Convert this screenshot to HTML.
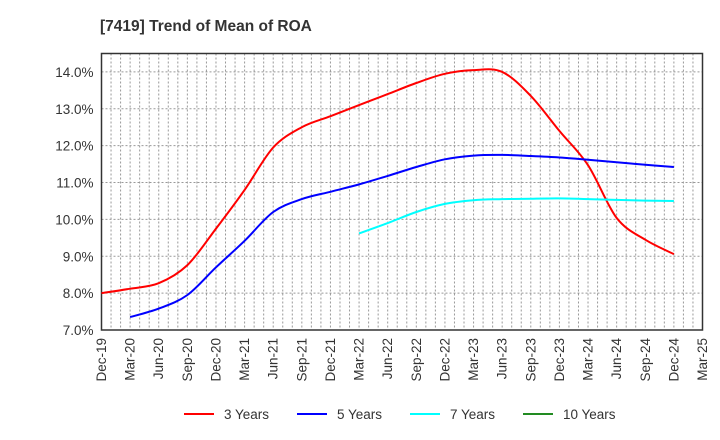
<!DOCTYPE html>
<html><head><meta charset="utf-8"><style>
body{margin:0;background:#fff;}
svg{display:block;font-family:"Liberation Sans",sans-serif;}
</style></head><body>
<svg id="chart" width="720" height="440">
<text x="100" y="31" font-size="15.5" font-weight="bold" fill="#333">[7419]  Trend of Mean of ROA</text>
<g id="grid"></g><g id="axes"></g><g id="series"></g><g id="legend"></g>
</svg>
<script>
const xLabels=["Dec-19","Mar-20","Jun-20","Sep-20","Dec-20","Mar-21","Jun-21","Sep-21","Dec-21","Mar-22","Jun-22","Sep-22","Dec-22","Mar-23","Jun-23","Sep-23","Dec-23","Mar-24","Jun-24","Sep-24","Dec-24","Mar-25"];
const yTicks=[7,8,9,10,11,12,13,14];
const y3=[8.0,8.12,8.27,8.76,9.75,10.8,11.95,12.5,12.8,13.1,13.4,13.7,13.95,14.05,14.0,13.35,12.4,11.47,10.04,9.45,9.06];
const y5=[null,7.35,7.58,7.95,8.7,9.42,10.2,10.55,10.75,10.95,11.18,11.42,11.63,11.73,11.75,11.72,11.68,11.62,11.55,11.48,11.42];
const y7=[null,null,null,null,null,null,null,null,null,9.62,9.9,10.2,10.42,10.52,10.55,10.56,10.57,10.55,10.53,10.51,10.5];
const y10=[];
const seriesNames=["3 Years","5 Years","7 Years","10 Years"];
const colors=["#ff0000","#0000ff","#00ffff","#228b22"];
const L=101.5,R=702.5,T=53.5,B=330;
const X=i=>L+(R-L)*i/21;
const Y=v=>B-(v-7)*((B-T)/7.5);
const NS="http://www.w3.org/2000/svg";
function mk(tag,attrs,parent){const e=document.createElementNS(NS,tag);for(const k in attrs)e.setAttribute(k,attrs[k]);parent.appendChild(e);return e;}
function smooth(p){let d='M'+p[0][0]+','+p[0][1];
 for(let i=0;i<p.length-1;i++){const p0=p[i-1]||p[i],p1=p[i],p2=p[i+1],p3=p[i+2]||p2;
  const c1=[p1[0]+(p2[0]-p0[0])/6,p1[1]+(p2[1]-p0[1])/6],c2=[p2[0]-(p3[0]-p1[0])/6,p2[1]-(p3[1]-p1[1])/6];
  d+=` C${c1[0].toFixed(1)},${c1[1].toFixed(1)} ${c2[0].toFixed(1)},${c2[1].toFixed(1)} ${p2[0].toFixed(1)},${p2[1].toFixed(1)}`;}
 return d;}
const grid=document.getElementById('grid'),axes=document.getElementById('axes'),ser=document.getElementById('series'),leg=document.getElementById('legend');
for(let m=1;m<63;m++){const x=L+(R-L)*m/63;
 const g=mk('line',{x1:x,x2:x,y1:T,y2:B,stroke:'#999','stroke-width':1,'stroke-dasharray':'2,2'},grid);
 
 }
yTicks.forEach(v=>{const y=Y(v);
 const g=mk('line',{x1:L,x2:R,y1:y,y2:y,stroke:'#999','stroke-width':1,'stroke-dasharray':'2,2'},grid);
 
 
 const t=mk('text',{x:L-8,y:y+5,'text-anchor':'end','font-size':13.5,fill:'#333'},axes);t.textContent=v.toFixed(1)+'%';
 
 });
xLabels.forEach((s,i)=>{const x=X(i)+4.5;
 const t=mk('text',{x:x,y:B+8,'text-anchor':'end','font-size':13.5,fill:'#333',transform:`rotate(-90 ${x} ${B+8})`},axes);t.textContent=s;
 
 });
const frame=mk('rect',{x:L,y:T,width:R-L,height:B-T,fill:'none',stroke:'#333','stroke-width':1.5},axes);


[y3,y5,y7,y10].forEach((arr,k)=>{const pts=[];arr.forEach((v,i)=>{if(v!=null)pts.push([X(i),Y(v)]);});
 if(pts.length){const p=mk('path',{d:smooth(pts),fill:'none',stroke:colors[k],'stroke-width':2,'stroke-linejoin':'round'},ser);
 
 }});
seriesNames.forEach((n,k)=>{const x0=184+113*k;
 const g=mk('g',{},leg);
 
 
 mk('line',{x1:x0,x2:x0+30,y1:414,y2:414,stroke:colors[k],'stroke-width':2},g);
 const t=mk('text',{x:x0+40,y:419,'font-size':13.5,fill:'#333'},g);t.textContent=n;});
</script>
</body></html>
